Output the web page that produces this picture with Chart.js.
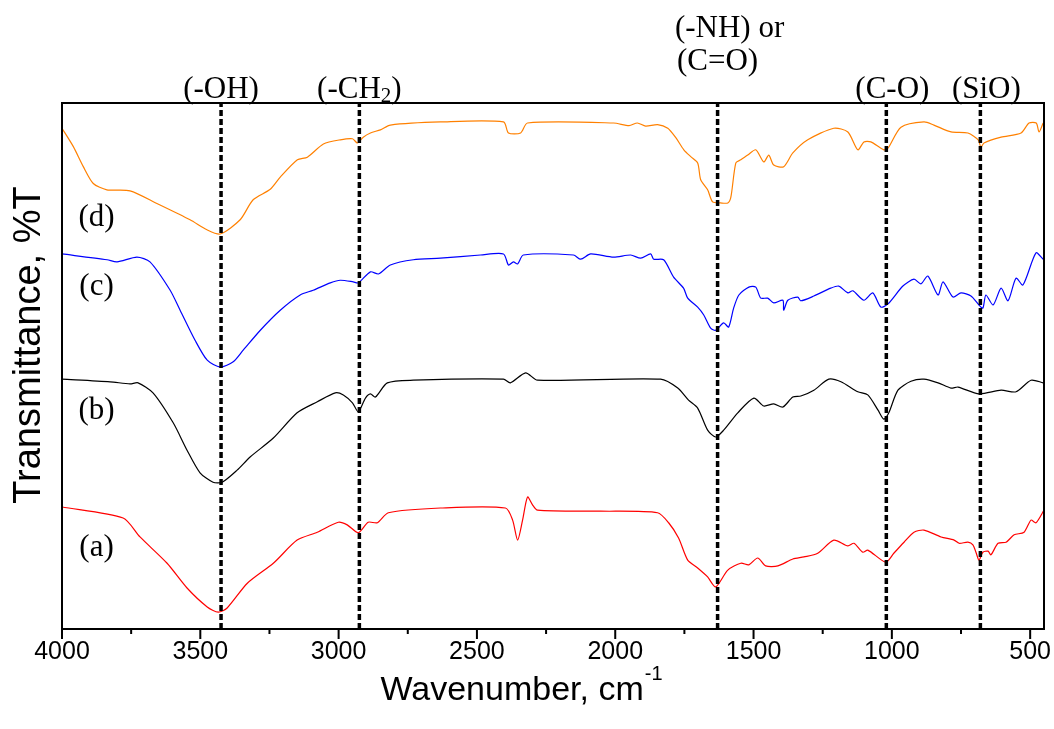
<!DOCTYPE html>
<html>
<head>
<meta charset="utf-8">
<script src="https://cdn.jsdelivr.net/npm/chart.js@4.4.1/dist/chart.umd.min.js"></script>
<style>
  html, body { margin: 0; padding: 0; background: #fff; }
  #wrap { width: 1054px; height: 729px; }
</style>
</head>
<body>
<div id="wrap"><canvas id="ftir"></canvas></div>
<script>
// spectrum (a) - red
const wnA = [4000,3779,3718,3620,3548,3475,3435,3403,3330,3236,3150,3077,3001,2969,2929,2893,2860,2820,2632,2397,2371,2353,2335,2317,2299,2281,2053,1847,1807,1771,1738,1702,1666,1637,1593,1546,1517,1485,1456,1412,1358,1318,1268,1210,1159,1137,1105,1087,1022,993,956,920,884,822,775,757,725,707,696,685,671,652,642,616,587,558,522,497,479,450];
const tA  = [23.2,21.1,17.5,12.5,7.8,4.2,3.2,4.0,8.7,12.5,16.9,18.4,20.3,19.8,18.3,20.3,20.2,22.1,23.0,23.0,20.7,16.9,20.7,25.1,23.6,22.6,22.4,22.1,20.2,17.3,13.1,11.6,9.9,8.0,11.2,12.5,12.2,13.5,12.0,12.0,13.3,13.7,14.4,16.9,15.8,16.3,14.6,15.0,12.7,14.4,16.5,18.4,18.8,17.5,16.9,16.3,16.5,16.0,14.6,13.1,14.6,14.8,14.1,16.3,16.5,17.9,18.4,20.7,20.2,22.6];

// spectrum (b) - black
const wnB = [4000,3826,3754,3725,3671,3598,3548,3501,3454,3421,3367,3320,3236,3150,3077,3012,2983,2950,2929,2903,2885,2867,2824,2730,2404,2379,2324,2281,1836,1774,1735,1702,1666,1637,1608,1557,1499,1463,1427,1394,1358,1329,1282,1228,1184,1123,1087,1050,1029,1011,978,931,884,833,786,761,685,605,551,497,453];
const tB  = [47.5,47.0,46.6,46.8,44.9,39.2,34.0,29.7,27.9,27.9,30.2,32.7,36.3,41.1,43.2,44.9,44.5,43.0,41.3,43.9,44.7,44.1,46.8,47.3,47.5,46.8,48.7,47.3,47.5,45.8,43.5,42.0,37.8,36.5,37.8,41.1,43.9,42.4,42.8,42.2,44.1,44.3,45.4,47.5,47.0,45.1,44.5,41.6,39.9,41.1,45.4,47.1,47.5,46.8,45.8,46.0,44.7,45.4,45.1,47.3,46.8];

// spectrum (c) - blue
const wnC = [4000,3837,3801,3729,3682,3609,3573,3519,3475,3428,3381,3345,3283,3211,3139,3092,3030,2994,2947,2929,2885,2856,2813,2730,2632,2487,2404,2386,2368,2353,2332,2151,2125,2089,2006,1944,1908,1872,1861,1825,1789,1753,1738,1702,1680,1655,1637,1608,1590,1572,1553,1517,1492,1474,1449,1427,1394,1391,1376,1340,1329,1282,1221,1192,1159,1141,1101,1069,1040,1014,960,920,895,870,833,815,779,750,714,685,671,660,634,605,580,551,526,479,453];
const tC  = [71.3,70.2,69.8,70.7,69.8,64.4,60.6,54.9,51.1,49.8,50.8,53.0,56.8,60.6,63.5,64.4,65.8,66.3,66.0,65.8,67.9,67.5,69.2,70.2,70.5,71.1,71.3,69.2,69.8,69.4,71.1,71.1,70.3,71.3,70.7,71.1,70.5,71.3,70.3,70.2,66.9,64.8,62.9,61.2,59.7,57.2,56.8,58.2,57.4,61.0,63.5,65.0,65.0,62.9,62.9,62.0,62.5,60.6,62.5,63.1,62.4,63.3,64.8,65.2,63.9,64.3,62.5,63.9,61.2,61.8,65.2,66.5,65.6,67.1,63.5,66.0,63.1,63.9,63.3,61.6,61.0,63.5,61.6,64.8,62.4,66.7,65.4,71.5,70.3];

// spectrum (d) - orange
const wnD = [4000,3959,3923,3887,3838,3754,3657,3537,3476,3428,3356,3309,3247,3211,3149,3113,3055,2994,2950,2932,2911,2885,2849,2813,2632,2404,2386,2342,2317,2006,1950,1920,1890,1847,1810,1781,1752,1727,1702,1691,1666,1648,1619,1593,1582,1564,1546,1521,1492,1463,1445,1427,1391,1358,1304,1210,1159,1123,1101,1076,1029,1014,967,884,848,786,725,688,678,667,605,533,504,478,468,453];
const tD  = [95.2,91.7,87.9,84.7,83.5,83.3,80.9,77.8,75.9,75.1,77.8,81.6,83.6,85.9,89.2,89.7,92.2,93.0,93.2,92.4,93.5,94.3,94.9,95.8,96.4,96.4,94.3,94.3,96.2,96.2,95.7,96.2,95.6,95.9,95.2,93.4,91.1,89.8,88.6,85.4,83.5,81.2,81.0,81.0,82.1,88.6,89.2,90.1,91.1,88.8,90.1,88.2,87.9,90.5,93.0,95.2,94.5,91.1,92.6,92.6,91.1,91.4,95.4,96.4,95.8,94.5,94.3,93.0,91.6,92.4,93.5,94.3,96.2,96.2,94.5,96.2];

// band markers
const bandWn    = [3425, 2925, 1630, 1020, 680];
const bandLabel = [['(-OH)'], ['(-CH', '2', ')'], ['(-NH) or', '(C=O)'], ['(C-O)'], ['(SiO)']];

// curve labels
const curveTags = ['(a)', '(b)', '(c)', '(d)'];
const tagWn     = [3875, 3875, 3875, 3875];
const tagT      = [15.4, 41.4, 65.0, 78.1];

// axis ticks
const majorTicks = [4000, 3500, 3000, 2500, 2000, 1500, 1000, 500];
const minorTicks = [3750, 3250, 2750, 2250, 1750, 1250, 750];

const toXY = (wn, t) => wn.map((w, i) => ({ x: w, y: t[i] }));

const curves = [
  { data: toXY(wnA, tA), color: '#ff0000' },
  { data: toXY(wnB, tB), color: '#000000' },
  { data: toXY(wnC, tC), color: '#0000ff' },
  { data: toXY(wnD, tD), color: '#ff8000' },
];

const datasets = curves.map(c => ({
  data: c.data,
  borderColor: c.color,
  borderWidth: 1.2,
  pointRadius: 0,
  tension: 0.25,
  order: 2,
}));

bandWn.forEach(w => datasets.push({
  data: [{ x: w, y: 0 }, { x: w, y: 100 }],
  borderColor: '#000',
  borderWidth: 3.5,
  borderDash: [6, 3],
  pointRadius: 0,
  order: 1,
}));

const serif = '"Liberation Serif", "Times New Roman", serif';
const sans  = '"Liberation Sans", Arial, sans-serif';
const BIG = '31px ' + serif, SUB = '21px ' + serif;

const decor = {
  id: 'decor',
  afterDraw(chart) {
    const { ctx, chartArea: a, scales: { x, y } } = chart;
    ctx.save();
    // frame
    ctx.strokeStyle = '#000';
    ctx.lineWidth = 2;
    ctx.strokeRect(a.left, a.top, a.right - a.left, a.bottom - a.top);
    // ticks
    ctx.beginPath();
    majorTicks.forEach(v => { const px = x.getPixelForValue(v); ctx.moveTo(px, a.bottom); ctx.lineTo(px, a.bottom + 10); });
    minorTicks.forEach(v => { const px = x.getPixelForValue(v); ctx.moveTo(px, a.bottom); ctx.lineTo(px, a.bottom + 5); });
    ctx.stroke();

    ctx.fillStyle = '#000';
    // band labels above the frame
    ctx.font = BIG;
    ctx.textBaseline = 'alphabetic';
    bandLabel.forEach((lab, i) => {
      const px = x.getPixelForValue(bandWn[i]);
      if (lab.length === 2) {
        ctx.textAlign = 'center';
        ctx.fillText(lab[0], px + 12, a.top - 66);
        ctx.fillText(lab[1], px, a.top - 33);
      } else if (lab.length === 3) {
        ctx.textAlign = 'left';
        const w0 = ctx.measureText(lab[0]).width;
        ctx.font = SUB;
        const w1 = ctx.measureText(lab[1]).width;
        ctx.font = BIG;
        const w2 = ctx.measureText(lab[2]).width;
        const sx = px - (w0 + w1 + w2) / 2;
        ctx.fillText(lab[0], sx, a.top - 5);
        ctx.font = SUB;
        ctx.fillText(lab[1], sx + w0, a.top - 1);
        ctx.font = BIG;
        ctx.fillText(lab[2], sx + w0 + w1, a.top - 5);
      } else {
        ctx.textAlign = 'center';
        ctx.fillText(lab[0], px + (i >= 3 ? 6 : 0), a.top - 5);
      }
    });

    // curve tags
    ctx.font = BIG;
    ctx.textAlign = 'center';
    ctx.textBaseline = 'middle';
    curveTags.forEach((t, i) => ctx.fillText(t, x.getPixelForValue(tagWn[i]), y.getPixelForValue(tagT[i])));

    // axis titles
    ctx.font = '34px ' + sans;
    ctx.textAlign = 'left';
    ctx.textBaseline = 'alphabetic';
    const main = 'Wavenumber, cm';
    const mw = ctx.measureText(main).width;
    ctx.font = '20px ' + sans;
    const sw = ctx.measureText('-1').width;
    const sx = 521 - (mw + sw) / 2;
    ctx.font = '34px ' + sans;
    ctx.fillText(main, sx, 700);
    ctx.font = '20px ' + sans;
    ctx.fillText('-1', sx + mw + 1, 680);

    ctx.translate(30, 345);
    ctx.rotate(-Math.PI / 2);
    ctx.font = '38px ' + sans;
    ctx.textAlign = 'center';
    ctx.textBaseline = 'middle';
    ctx.fillText('Transmittance, %T', 0, 0);
    ctx.restore();
  }
};

new Chart(document.getElementById('ftir'), {
  type: 'line',
  data: { datasets },
  options: {
    responsive: true,
    maintainAspectRatio: false,
    animation: false,
    layout: { padding: { top: 103, right: 10, left: 62, bottom: 0 } },
    plugins: { legend: { display: false }, tooltip: { enabled: false } },
    scales: {
      x: {
        type: 'linear',
        reverse: true,
        min: 450,
        max: 4000,
        grid: { display: false },
        border: { display: false },
        afterBuildTicks: s => { s.ticks = majorTicks.map(v => ({ value: v })); },
        afterFit: s => { s.height = 100; s.paddingLeft = 0; s.paddingRight = 0; },
        ticks: {
          color: '#000', padding: 0, maxRotation: 0, autoSkip: false,
          font: { family: sans, size: 25 },
          callback: v => String(v),
        },
      },
      y: { display: false, min: 0, max: 100 },
    },
  },
  plugins: [decor],
});
</script>
</body>
</html>
